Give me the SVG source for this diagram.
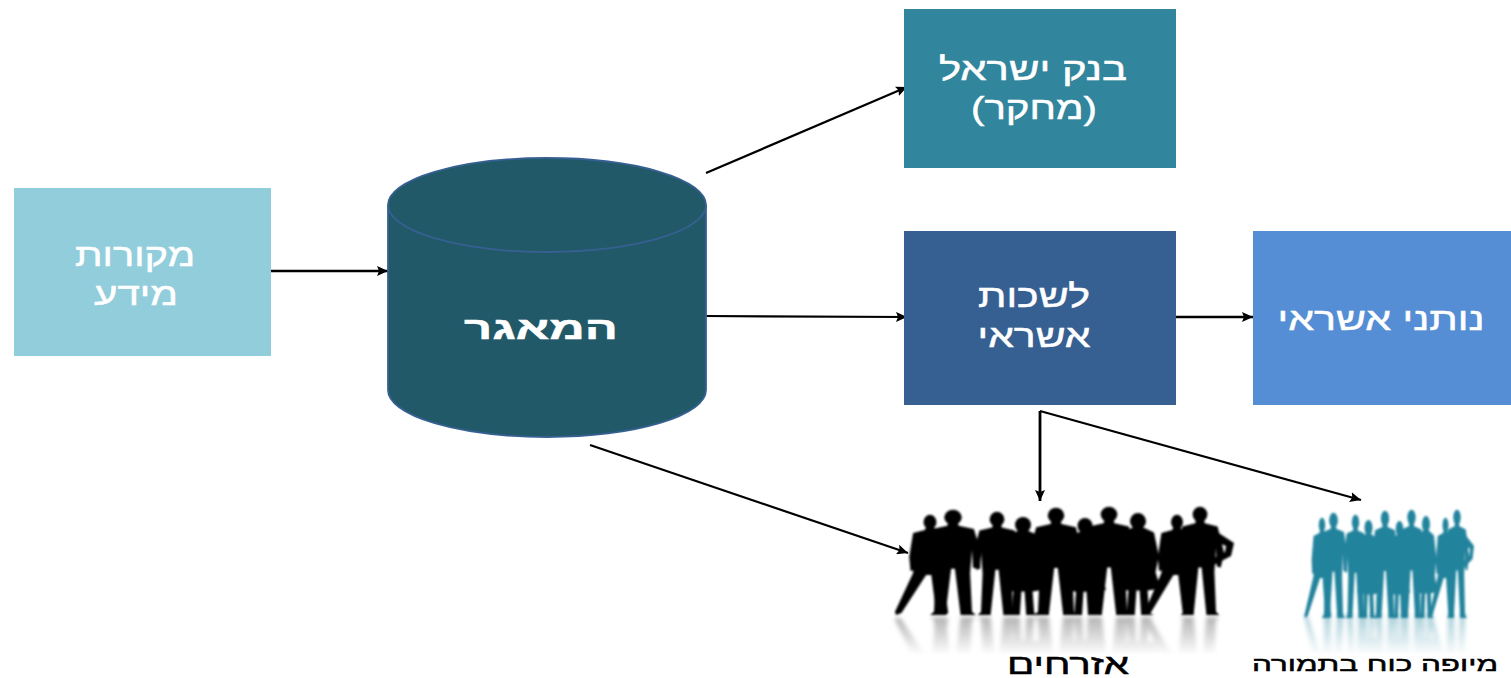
<svg xmlns="http://www.w3.org/2000/svg" width="1511" height="678" viewBox="0 0 1511 678">
<style>
text{font-family:"Liberation Sans","DejaVu Sans",sans-serif;direction:rtl;text-anchor:middle;fill:#fff;font-size:32px;stroke:#fff;stroke-width:.5}
.b{font-weight:bold}
.k{fill:#000;stroke:#000;font-size:28px}
.c{fill:none;stroke:#000;stroke-width:2.2;marker-end:url(#a)}
</style>
<defs>
<marker id="a" markerUnits="userSpaceOnUse" markerWidth="12" markerHeight="10" refX="11" refY="5" orient="auto"><path d="M0,0L11,5L0,10L2,5Z" fill="#000"/></marker>
<filter id="soft" x="-5%" y="-5%" width="110%" height="110%"><feGaussianBlur stdDeviation="0.9"/></filter>
<filter id="softer" x="-5%" y="-5%" width="110%" height="110%"><feGaussianBlur stdDeviation="2"/></filter>
<linearGradient id="fade" gradientUnits="userSpaceOnUse" x1="0" y1="615" x2="0" y2="655"><stop offset="0" stop-color="#fff" stop-opacity=".42"/><stop offset="1" stop-color="#fff" stop-opacity="0"/></linearGradient>
<mask id="m" maskUnits="userSpaceOnUse" x="880" y="612" width="620" height="50"><rect x="880" y="612" width="620" height="50" fill="url(#fade)"/></mask>
<g id="man"><ellipse cx="0" cy="7" rx="4.6" ry="7.2"/><path d="M-2.5,12L2.5,12L3,15L11,18L15,42L13,56L10.5,55L10,38L9,60L10,97L12,100L4,100L1,56L-1,56L-4,100L-12,100L-10,97L-9,60L-10,38L-10.5,55L-13,56L-15,42L-11,18L-3,15Z"/></g>
<g id="woman"><ellipse cx="0" cy="8" rx="5" ry="8"/><path d="M-3,14L3,14L10,19L13,42L11,58L14,74L6,76L7,98L10,100L2,100L1,76L-1,76L-2,100L-10,100L-7,98L-6,76L-14,74L-11,58L-13,42L-10,19Z"/></g>
<g id="wide"><ellipse cx="0" cy="7" rx="5" ry="7.2"/><path d="M-3,12L3,12L4,15L13,18L17,42L15,56L12,55L11,40L10,60L14,98L12,100L5,100L1,60L-3,60L-22,98L-26,100L-27,97L-13,58L-12,38L-12,55L-15,56L-16,42L-13,18L-4,15Z"/></g>
<g id="crowd">
<use href="#wide" transform="translate(930,515) scale(1.3,1)"/>
<use href="#man" transform="translate(953,510) scale(1.9,1.05)"/>
<use href="#man" transform="translate(997,512) scale(1.6,1.03)"/>
<use href="#woman" transform="translate(1023,517) scale(1.6,.98)"/>
<use href="#man" transform="translate(1056,508) scale(1.8,1.07)"/>
<use href="#woman" transform="translate(1085,518) scale(1.5,.97)"/>
<use href="#man" transform="translate(1109,507) scale(1.8,1.08)"/>
<use href="#woman" transform="translate(1138,513) scale(1.6,1.02)"/>
<use href="#wide" transform="translate(1177,515) scale(1.2,1)"/>
<use href="#man" transform="translate(1200,507) scale(1.6,1.08)"/>
<path d="M1214,530L1234,543L1231,556L1212,566L1210,560L1225,552L1226,546L1212,540Z"/>
</g>
</defs>

<g id="connectors">
<path class="c" style="stroke-width:2.6" d="M271,271L388,271"/>
<path class="c" d="M706,173L907,87"/>
<path class="c" d="M706,316L907,317"/>
<path class="c" style="stroke-width:2.6" d="M1174,317L1253,317"/>
<path class="c" style="stroke-width:2.8" d="M1040,411L1040,501"/>
<path class="c" d="M1040,411L1361,500"/>
<path class="c" d="M590,445L908,553"/>
</g>

<g id="sources"><rect x="14" y="188" width="257" height="168" fill="#92cddc"/>
<text x="135" y="266" textLength="120" lengthAdjust="spacingAndGlyphs">מקורות</text>
<text x="136" y="305" textLength="84" lengthAdjust="spacingAndGlyphs">מידע</text></g>

<g id="database">
<path d="M388,205A159,47 0 0 1 706,205V390A159,47 0 0 1 388,390Z" fill="#215968" stroke="#376092" stroke-width="1.8"/>
<path d="M388,205A159,47 0 0 0 706,205" fill="none" stroke="#376092" stroke-width="1.8"/>
<text class="b" x="541" y="339" textLength="154" lengthAdjust="spacingAndGlyphs">המאגר</text></g>

<g id="bank"><rect x="904" y="9" width="272" height="159" fill="#31859c"/>
<text x="1033" y="80" textLength="188" lengthAdjust="spacingAndGlyphs">בנק ישראל</text>
<text x="1034" y="119" textLength="126" lengthAdjust="spacingAndGlyphs">(מחקר)</text></g>

<g id="bureaus"><rect x="904" y="231" width="272" height="174" fill="#376092"/>
<text x="1034" y="307" textLength="112" lengthAdjust="spacingAndGlyphs">לשכות</text>
<text x="1034" y="347" textLength="113" lengthAdjust="spacingAndGlyphs">אשראי</text></g>

<g id="lenders"><rect x="1253" y="231" width="258" height="174" fill="#558ed5"/>
<text x="1381" y="330" textLength="207" lengthAdjust="spacingAndGlyphs">נותני אשראי</text></g>

<g id="citizens">
<g filter="url(#soft)"><use href="#crowd" fill="#000"/></g>
<g mask="url(#m)"><g filter="url(#softer)"><use href="#crowd" fill="#444" transform="translate(0,1232) scale(1,-1)"/></g></g>
<text class="k" x="1068" y="674" textLength="122" lengthAdjust="spacingAndGlyphs">אזרחים</text></g>

<g id="proxy">
<g filter="url(#soft)"><use href="#crowd" fill="#23839c" transform="translate(857,3) scale(.5,1)"/></g>
<g mask="url(#m)"><g filter="url(#softer)"><use href="#crowd" fill="#23839c" transform="translate(857,1229) scale(.5,-1)"/></g></g>
<text class="k" style="font-size:20px" x="1375" y="671" textLength="246" lengthAdjust="spacingAndGlyphs">מיופה כוח בתמורה</text></g>
</svg>
